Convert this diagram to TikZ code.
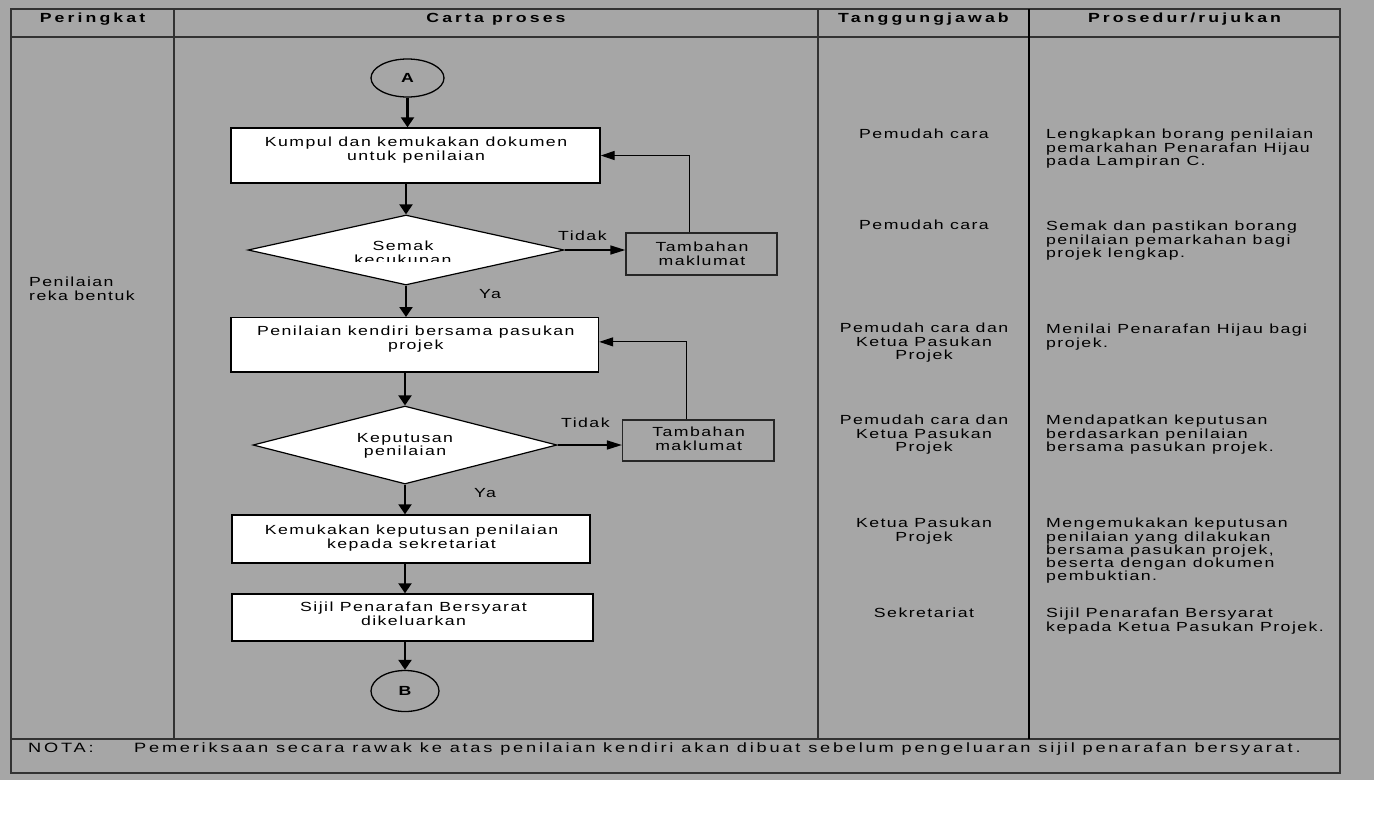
\documentclass[tikz,border=0pt]{standalone}
\usepackage{fontspec}
\setmainfont[FakeStretch=1.34,LetterSpace=11]{Liberation Sans}
\newfontfamily\hdrfont[FakeStretch=1.34,LetterSpace=23.5]{Liberation Sans}
\newfontfamily\notafont[FakeStretch=1.35,LetterSpace=20.5]{Liberation Sans}
\usetikzlibrary{shapes.geometric,arrows.meta,calc}
\definecolor{bg}{RGB}{166,166,166}
\definecolor{gridc}{RGB}{50,50,50}
\begin{document}
\begin{tikzpicture}[x=1pt,y=-1pt,
  txt/.style={inner sep=0pt, font=\fontsize{13.2}{13.3}\selectfont},
  ctxt/.style={txt, align=center, anchor=north},
  ltxt/.style={txt, align=left, anchor=north west},
  hdr/.style={inner sep=0pt, anchor=north, font=\hdrfont\bfseries\fontsize{13.2}{13.3}\selectfont},
  procbox/.style={draw=black, line width=1.4pt, fill=white, rectangle, inner sep=0pt},
  addbox/.style={draw=black!85, line width=1.4pt, rectangle, inner sep=0pt},
  decision/.style={draw=black, line width=1.2pt, fill=white, diamond, inner sep=0pt},
  conn/.style={draw=black, line width=1.3pt, ellipse, inner sep=0pt, font=\hdrfont\bfseries\fontsize{13.2}{13.3}\selectfont},
  varr/.style={line width=2.2pt, -{Triangle[length=10pt,width=13pt]}},
  harr/.style={line width=1.5pt, -{Triangle[length=15pt,width=9pt]}},
  back/.style={line width=1.2pt, -{Triangle[length=14pt,width=9pt]}},
  tline/.style={draw=gridc, line width=1.2pt},
  notaf/.style={inner sep=0pt, anchor=north west, font=\notafont\fontsize{13.5}{14}\selectfont},
]
\useasboundingbox (0,0) rectangle (1374,812);
\fill[white] (0,0) rectangle (1374,812);
\fill[bg] (0,0) rectangle (1374,780);

% table
\draw[tline] (11,9) rectangle (1340,773);
\draw[tline] (11,37) -- (1340,37);
\draw[tline] (11,739) -- (1340,739);
\draw[tline] (174,9) -- (174,739);
\draw[tline] (818,9) -- (818,739);
\draw[line width=2pt, black] (1029,9) -- (1029,739);

% headers
\node[hdr] (h1) at (92.5,13) {Peringkat};
\node[hdr] (h2) at (496,13) {Carta proses};
\node[hdr] (h3) at (923.5,13) {Tanggungjawab};
\node[hdr] (h4) at (1184.5,13) {Prosedur/rujukan};

% level
\node[ltxt] (lvl) at (29,277) {Penilaian\\reka bentuk};

% flow chart
\node[conn, minimum width=73pt, minimum height=38pt] (A) at (407.5,78) {A};

\node[procbox, minimum width=369pt, minimum height=55pt] (b1) at (415.5,155.5) {};
\node[ctxt] (t1) at (416,137) {Kumpul dan kemukakan dokumen\\untuk penilaian};

\node[decision, minimum width=316pt, minimum height=70pt] (d1) at (406,250) {};
\begin{scope}
\clip (300,230) rectangle (510,261.5);
\node[ctxt] (t2) at (403,241) {Semak\\kecukupan};
\end{scope}

\node[addbox, minimum width=151pt, minimum height=42pt] (m1) at (701.5,254) {};
\node[ctxt] (tm1) at (702,242) {Tambahan\\maklumat};
\node[ltxt] (n1) at (558,231) {Tidak};
\node[ltxt] (y1) at (479,289) {Ya};

\node[procbox, minimum width=367.5pt, minimum height=54.3pt] (b2) at (414.75,344.85) {};
\node[ctxt] (t3) at (415.8,326) {Penilaian kendiri bersama pasukan\\projek};

\node[decision, minimum width=304pt, minimum height=78pt] (d2) at (405,445) {};
\node[ctxt] (t4) at (405,433) {Keputusan\\penilaian};

\node[addbox, minimum width=151.4pt, minimum height=41pt] (m2) at (698.3,440.5) {};
\node[ctxt] (tm2) at (698.7,427) {Tambahan\\maklumat};
\node[ltxt] (n2) at (561,418) {Tidak};
\node[ltxt] (y2) at (474,488) {Ya};

\node[procbox, minimum width=358pt, minimum height=48pt] (b3) at (411,539) {};
\node[ctxt] (t5) at (411.5,525) {Kemukakan keputusan penilaian\\kepada sekretariat};

\node[procbox, minimum width=361pt, minimum height=47pt] (b4) at (412.5,617.5) {};
\node[ctxt] (t6) at (413.5,602) {Sijil Penarafan Bersyarat\\dikeluarkan};

\node[conn, minimum width=68pt, minimum height=41pt] (B) at (405,691) {B};

% connectors
\draw[varr] (A.south) -- (A.south |- b1.north);
\draw[varr] (b1.south -| d1.north) -- (d1.north);
\draw[varr] (d1.south) -- (d1.south |- b2.north);
\draw[varr] (b2.south -| d2.north) -- (d2.north);
\draw[varr] (d2.south) -- (d2.south |- b3.north);
\draw[varr] (b3.south -| d2.south) -- (d2.south |- b4.north);
\draw[varr] (b4.south -| B.north) -- (B.north);
\draw[harr] (d1.east) -- (d1.east -| m1.west);
\draw[harr] (d2.east) -- (d2.east -| m2.west);
\draw[back] ($(m1.north)+(-12,0)$) |- (b1.east);
\draw[back] ($(m2.north)+(-11.6,0)$) |- ($(b2.east)+(0,-3)$);

% responsibility
\node[ctxt] (r1) at (924,129) {Pemudah cara};
\node[ctxt] (r2) at (924,220) {Pemudah cara};
\node[ctxt] (r3) at (924,323) {Pemudah cara dan\\Ketua Pasukan\\Projek};
\node[ctxt] (r4) at (924,415) {Pemudah cara dan\\Ketua Pasukan\\Projek};
\node[ctxt] (r5) at (924,518) {Ketua Pasukan\\Projek};
\node[ctxt] (r6) at (924,608) {Sekretariat};

% procedure
\node[ltxt] (p1) at (1046,129) {Lengkapkan borang penilaian\\pemarkahan Penarafan Hijau\\pada Lampiran C.};
\node[ltxt] (p2) at (1046,221) {Semak dan pastikan borang\\penilaian pemarkahan bagi\\projek lengkap.};
\node[ltxt] (p3) at (1046,324) {Menilai Penarafan Hijau bagi\\projek.};
\node[ltxt] (p4) at (1046,415) {Mendapatkan keputusan\\berdasarkan penilaian\\bersama pasukan projek.};
\node[ltxt] (p5) at (1046,518) {Mengemukakan keputusan\\penilaian yang dilakukan\\bersama pasukan projek,\\beserta dengan dokumen\\pembuktian.};
\node[ltxt] (p6) at (1046,608) {Sijil Penarafan Bersyarat\\kepada Ketua Pasukan Projek.};

% note
\node[notaf] (nota) at (28,743) {NOTA:};
\node[notaf] (notatext) at (134,743) {Pemeriksaan secara rawak ke atas penilaian kendiri akan dibuat sebelum pengeluaran sijil penarafan bersyarat.};
\end{tikzpicture}
\end{document}
